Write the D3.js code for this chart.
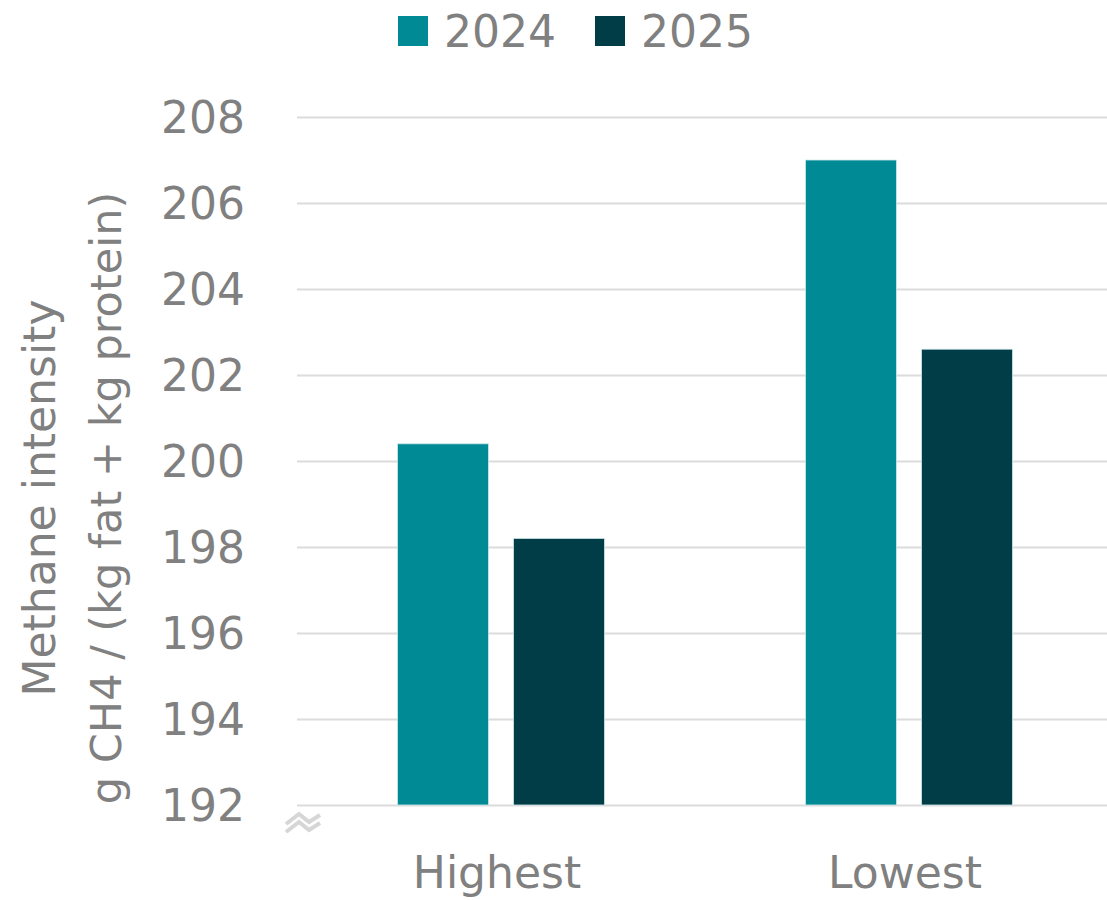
<!DOCTYPE html>
<html>
<head>
<meta charset="utf-8">
<script src="https://cdn.jsdelivr.net/npm/d3@7"></script>
<style>
  html, body { margin: 0; padding: 0; background: #fff; }
  svg { display: block; }
  text { font-family: "DejaVu Sans", "Liberation Sans", sans-serif; fill: #808080; }
</style>
</head>
<body>
<svg id="chart" width="1107" height="900"></svg>
<script>
const categories = ["Highest", "Lowest"];
const seriesNames = ["2024", "2025"];
const values2024 = [200.4, 207.0];
const values2025 = [198.2, 202.6];
const yTicks = [192, 194, 196, 198, 200, 202, 204, 206, 208];
const colors = ["#008A96", "#003D47"];

const svg = d3.select("#chart");
const plot = { left: 297, right: 1113, top: 117, bottom: 805 };

const y = d3.scaleLinear().domain([192, 208]).range([plot.bottom, plot.top]);
const x0 = d3.scaleBand().domain(categories).range([plot.left, plot.right]).paddingInner(0).paddingOuter(0);
const bw = 91, gap = 25;
const groupW = 2 * bw + gap;
const x1 = d3.scaleBand().domain(seriesNames).range([0, groupW]).paddingInner(gap / (bw + gap)).paddingOuter(0);

// gridlines + y tick labels
const yAxis = d3.axisLeft(y).tickValues(yTicks).tickSize(-(plot.right - plot.left)).tickFormat(d3.format("d")).tickPadding(52);
const gy = svg.append("g").attr("transform", `translate(${plot.left},0)`).call(yAxis);
gy.select(".domain").remove();
gy.selectAll(".tick line").attr("stroke", "#dcdcdc").attr("stroke-width", 2);
gy.selectAll(".tick text").attr("font-size", 44).attr("fill", "#808080").attr("dy", "0.36em");

// bars
const data = categories.map((c, i) => ({ cat: c, vals: [
  { s: seriesNames[0], v: values2024[i] },
  { s: seriesNames[1], v: values2025[i] }
]}));
const groups = svg.append("g").selectAll("g").data(data).join("g")
  .attr("transform", d => `translate(${x0(d.cat) + x0.bandwidth() / 2 - groupW / 2},0)`);
groups.selectAll("rect").data(d => d.vals).join("rect")
  .attr("x", d => x1(d.s))
  .attr("width", x1.bandwidth())
  .attr("y", d => y(d.v))
  .attr("height", d => y(192) - y(d.v))
  .attr("fill", (d, i) => colors[i])
  .attr("stroke", "#cfe8ea").attr("stroke-width", 0.8);

// x axis labels
const xAxis = d3.axisBottom(x0).tickSize(0).tickPadding(0);
const gx = svg.append("g").attr("transform", `translate(-4,${plot.bottom})`).call(xAxis);
gx.select(".domain").remove();
gx.selectAll(".tick text").attr("font-size", 44).attr("fill", "#808080").attr("dy", 0).attr("y", 83);

// axis break symbol
const brk = svg.append("g").attr("fill", "none").attr("stroke", "#d6d6d6").attr("stroke-width", 4);
[0, 8].forEach(o => {
  brk.append("path").attr("d", `M286,${824 + o} L299,${814 + o} L309,${822 + o} L320,${815 + o}`);
});

// y title
const tt = svg.append("text").attr("transform", `translate(0,498) rotate(-90)`)
  .attr("text-anchor", "middle").attr("font-size", 44);
tt.append("tspan").attr("x", 0).attr("y", 55).text("Methane intensity");
tt.append("tspan").attr("x", 0).attr("y", 121).attr("font-size", 43).text("g CH4 / (kg fat + kg protein)");

// legend
const legend = svg.append("g");
const legX = [398, 595];
seriesNames.forEach((s, i) => {
  legend.append("rect").attr("x", legX[i]).attr("y", 16).attr("width", 30).attr("height", 30).attr("fill", colors[i]);
  legend.append("text").attr("x", legX[i] + 46).attr("y", 47).attr("font-size", 44).text(s);
});
</script>
</body>
</html>
